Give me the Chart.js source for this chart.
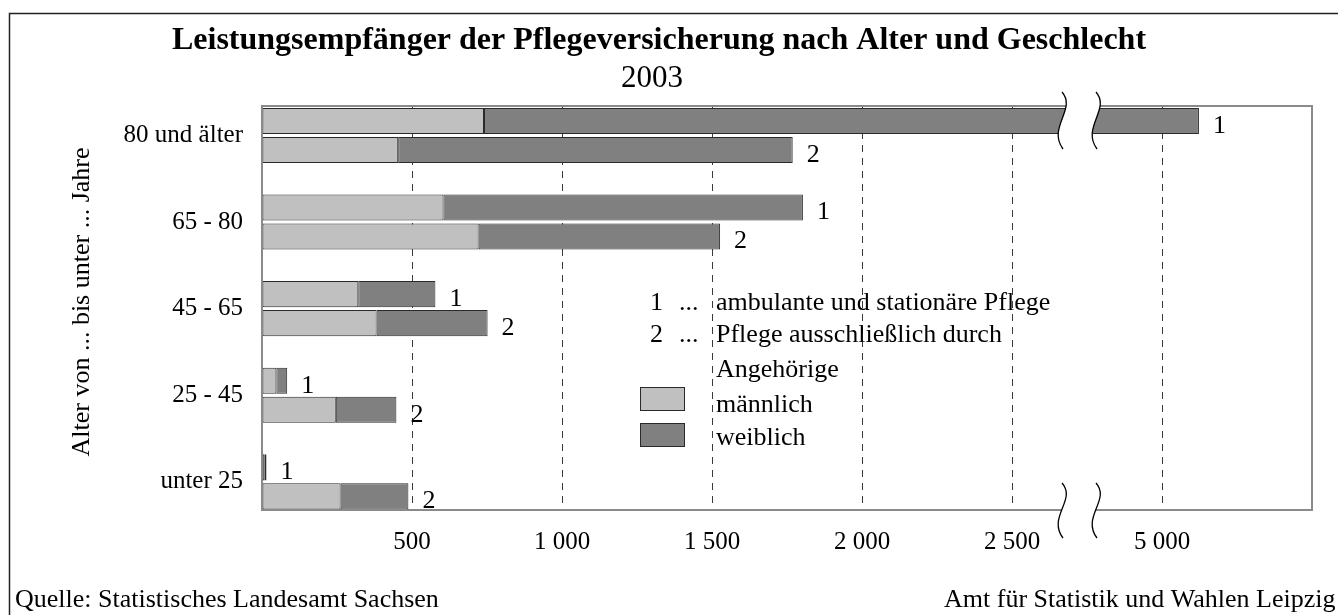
<!DOCTYPE html>
<html lang="de">
<head>
<meta charset="utf-8">
<title>Leistungsempfänger der Pflegeversicherung 2003</title>
<script src="https://cdn.jsdelivr.net/npm/chart.js@4.4.1/dist/chart.umd.min.js"></script>
<style>
  html, body { margin: 0; padding: 0; background: #fff; }
  #wrap { width: 1338px; height: 615px; position: relative; overflow: hidden; }
  canvas { display: block; }
</style>
</head>
<body>
<div id="wrap"><canvas id="chart" width="1338" height="615"></canvas></div>
<script>
// ---- data (Personen) ----
const categories = ['80 und älter', '65 - 80', '45 - 65', '25 - 45', 'unter 25'];
// 1 ... ambulante und stationäre Pflege
const maleAmb   = [740, 605, 321, 48, 9];
const femaleAmb = [4383, 1198, 257, 36, 6];
// 2 ... Pflege ausschließlich durch Angehörige
const maleAng   = [454, 722, 382, 246, 262];
const femaleAng = [1315, 805, 370, 202, 226];
const xTickValues = [500, 1000, 1500, 2000, 2500, 5000];

// axis break: values between BREAK_FROM and BREAK_TO are cut out
const BREAK_FROM = 2750, BREAK_TO = 4750, AXIS_END = 5500;
const toAxis = (v) => v <= BREAK_FROM ? v : v - (BREAK_TO - BREAK_FROM);
const fromAxis = (d) => d <= BREAK_FROM ? d : d + (BREAK_TO - BREAK_FROM);
const fmt = (v) => String(v).replace(/\B(?=(\d{3})+(?!\d))/g, ' ');

const SERIF = '"Liberation Serif", "Times New Roman", serif';
const COL_M = '#c0c0c0', COL_F = '#808080', EDGE = '#2a2a2a';

// y is linear so the category rows can sit exactly where the original puts them
const yOf = (i) => categories.length - 1 - i;
const pts = (arr) => arr.map((v, i) => ({ x: v, y: yOf(i) }));
// female segment is stacked on male, shortened by the break if needed
const femPts = (m, f) => f.map((v, i) => ({ x: toAxis(m[i] + v) - m[i], y: yOf(i) }));

const barBase = { borderColor: EDGE, borderWidth: 1, borderSkipped: false,
                  categoryPercentage: 0.67, barPercentage: 0.9 };

const datasets = [
  { ...barBase, label: 'männlich 1', data: pts(maleAmb), backgroundColor: COL_M, stack: 's1' },
  { ...barBase, label: 'weiblich 1', data: femPts(maleAmb, femaleAmb), backgroundColor: COL_F, stack: 's1', tag: '1' },
  { ...barBase, label: 'männlich 2', data: pts(maleAng), backgroundColor: COL_M, stack: 's2' },
  { ...barBase, label: 'weiblich 2', data: femPts(maleAng, femaleAng), backgroundColor: COL_F, stack: 's2', tag: '2' }
];

// ---- drawing helpers ----
function wave(ctx, x, y0, y1) {
  const h = y1 - y0;
  ctx.moveTo(x, y0);
  ctx.bezierCurveTo(x + 15, y0 + h * 0.3, x - 15, y0 + h * 0.62, x + 1, y1);
}
function wavePath(ctx, x, y0, y1, back) {
  const h = y1 - y0;
  if (!back) {
    ctx.bezierCurveTo(x + 15, y0 + h * 0.3, x - 15, y0 + h * 0.62, x + 1, y1);
  } else {
    ctx.bezierCurveTo(x - 15, y0 + h * 0.62, x + 15, y0 + h * 0.3, x, y0);
  }
}
function drawBreak(ctx, cx, y0, y1) {
  const xl = cx - 17, xr = cx + 17;
  ctx.save();
  ctx.beginPath();
  ctx.moveTo(xl, y0);
  wavePath(ctx, xl, y0, y1, false);
  ctx.lineTo(xr + 1, y1);
  wavePath(ctx, xr, y0, y1, true);
  ctx.closePath();
  ctx.fillStyle = '#fff';
  ctx.fill();
  ctx.beginPath();
  wave(ctx, xl, y0, y1);
  wave(ctx, xr, y0, y1);
  ctx.strokeStyle = '#000';
  ctx.lineWidth = 1.3;
  ctx.stroke();
  ctx.restore();
}

const decor = {
  id: 'decor',
  afterDatasetsDraw(chart) {
    const { ctx, chartArea: a, scales: { x } } = chart;
    ctx.save();
    // plot frame
    ctx.strokeStyle = '#8a8a8a';
    ctx.lineWidth = 2;
    ctx.strokeRect(a.left, a.top, a.right - a.left, a.bottom - a.top);

    // 1 / 2 markers behind each bar
    ctx.fillStyle = '#000';
    ctx.font = '26px ' + SERIF;
    ctx.textAlign = 'left';
    ctx.textBaseline = 'middle';
    chart.data.datasets.forEach((ds, di) => {
      if (!ds.tag) return;
      chart.getDatasetMeta(di).data.forEach((bar) => {
        ctx.fillText(ds.tag, bar.x + 14, bar.y + 5);
      });
    });

    // axis break
    const cx = x.getPixelForValue(BREAK_FROM) - 8;
    drawBreak(ctx, cx, a.top - 14, a.top + 43);
    drawBreak(ctx, cx, a.bottom - 27, a.bottom + 28);

    // legend inside the plot
    ctx.font = '26px ' + SERIF;
    ctx.fillStyle = '#000';
    ctx.textAlign = 'left';
    ctx.fillText('1', 650, 303);
    ctx.fillText('...', 679, 303);
    ctx.fillText('ambulante und stationäre Pflege', 716, 303);
    ctx.fillText('2', 650, 335);
    ctx.fillText('...', 679, 335);
    ctx.fillText('Pflege ausschließlich durch', 716, 335);
    ctx.fillText('Angehörige', 716, 370);
    ctx.fillText('männlich', 716, 405);
    ctx.fillText('weiblich', 716, 438);
    ctx.lineWidth = 1;
    ctx.strokeStyle = EDGE;
    ctx.fillStyle = COL_M;
    ctx.fillRect(640.5, 387.5, 44, 23);
    ctx.strokeRect(640.5, 387.5, 44, 23);
    ctx.fillStyle = COL_F;
    ctx.fillRect(640.5, 423.5, 44, 23);
    ctx.strokeRect(640.5, 423.5, 44, 23);
    ctx.restore();
  },
  afterDraw(chart) {
    const { ctx } = chart;
    ctx.save();
    ctx.strokeStyle = '#222';
    ctx.lineWidth = 1.5;
    ctx.strokeRect(9.5, 13.5, 1500, 800);

    ctx.fillStyle = '#000';
    ctx.textAlign = 'center';
    ctx.textBaseline = 'middle';
    ctx.font = 'bold 32px ' + SERIF;
    ctx.fillText('Leistungsempfänger der Pflegeversicherung nach Alter und Geschlecht', 659, 41);
    ctx.font = '31px ' + SERIF;
    ctx.fillText('2003', 652, 79);

    ctx.save();
    ctx.translate(82, 302);
    ctx.rotate(-Math.PI / 2);
    ctx.font = '26px ' + SERIF;
    ctx.fillText('Alter von ... bis unter ... Jahre', 0, 0);
    ctx.restore();

    ctx.font = '26px ' + SERIF;
    ctx.textAlign = 'left';
    ctx.fillText('Quelle: Statistisches Landesamt Sachsen', 15, 600);
    ctx.fillText('Amt für Statistik und Wahlen Leipzig', 944, 600);
    ctx.restore();
  }
};

new Chart(document.getElementById('chart'), {
  type: 'bar',
  data: { datasets },
  plugins: [decor],
  options: {
    indexAxis: 'y',
    responsive: false,
    animation: false,
    layout: { padding: { top: 106, right: 26, bottom: 0, left: 0 } },
    plugins: { legend: { display: false }, tooltip: { enabled: false }, title: { display: false } },
    scales: {
      x: {
        type: 'linear',
        stacked: true,
        min: 0,
        max: toAxis(AXIS_END),
        afterBuildTicks: (s) => { s.ticks = [0, ...xTickValues.map(toAxis), toAxis(AXIS_END)].map(v => ({ value: v })); },
        afterFit: (s) => { s.height = 105; },
        grid: {
          drawTicks: false,
          color: (c) => (c.tick && (c.tick.value === 0 || c.tick.value === toAxis(AXIS_END))) ? 'rgba(0,0,0,0)' : '#3a3a3a',
          lineWidth: 1
        },
        border: { display: false, dash: [7, 6] },
        ticks: {
          padding: 17,
          color: '#000',
          font: { family: SERIF, size: 25 },
          maxRotation: 0,
          autoSkip: false,
          callback: (v) => (v === 0 || v === toAxis(AXIS_END)) ? '' : fmt(fromAxis(v))
        }
      },
      y: {
        type: 'linear',
        stacked: true,
        offset: false,
        min: -0.325,
        max: 4.34,
        afterBuildTicks: (s) => { s.ticks = categories.map((_, i) => ({ value: yOf(i) })); },
        afterFit: (s) => { s.width = 262; },
        grid: { display: false, drawTicks: false, offset: false },
        border: { display: false },
        ticks: {
          padding: 19,
          color: '#000',
          font: { family: SERIF, size: 25 },
          callback: (v) => categories[categories.length - 1 - v] ?? ''
        }
      }
    }
  }
});
</script>
</body>
</html>
